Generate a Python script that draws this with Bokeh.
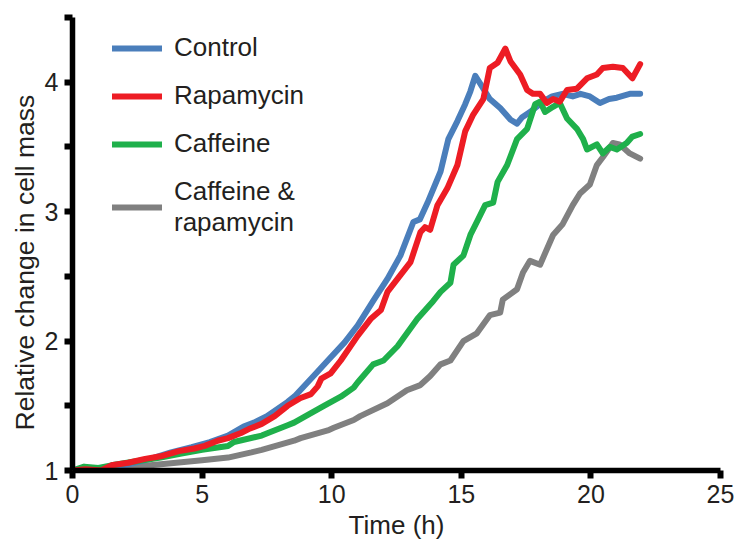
from bokeh.plotting import figure
from bokeh.models import Range1d, FixedTicker, Legend, LegendItem, Title
from bokeh.embed import file_html
from bokeh.resources import INLINE

# ---- data ----
control_t = [0, 0.5, 1.0, 1.5, 2.2, 3.0, 3.8, 4.6, 5.3, 6.0, 6.6, 7.0, 7.5, 8.3, 8.6, 9.3, 9.85,
             10.5, 11.0, 11.6, 12.15, 12.65, 13.15, 13.4, 13.7, 14.2, 14.5, 14.85, 15.15, 15.35,
             15.54, 15.85, 16.1, 16.5, 16.9, 17.15, 17.35, 17.65, 17.9, 18.15, 18.5, 18.9, 19.3,
             19.6, 19.96, 20.35, 20.7, 21.0, 21.5, 21.9]
control_y = [1.0, 1.0, 0.99, 1.02, 1.05, 1.09, 1.14, 1.18, 1.22, 1.27, 1.34, 1.37, 1.42, 1.53, 1.58,
             1.73, 1.85, 1.99, 2.12, 2.31, 2.48, 2.66, 2.92, 2.94, 3.07, 3.31, 3.56, 3.70, 3.83, 3.93,
             4.05, 3.95, 3.87, 3.80, 3.71, 3.68, 3.73, 3.77, 3.81, 3.85, 3.89, 3.91, 3.89, 3.91,
             3.89, 3.84, 3.87, 3.88, 3.91, 3.91]

rapa_t = [0, 0.5, 1.1, 1.5, 2.15, 2.8, 3.4, 4.1, 4.7, 5.1, 5.6, 6.0, 6.5, 6.8, 7.3, 7.8, 8.3, 8.8,
          9.2, 9.46, 9.6, 9.96, 10.35, 11.0, 11.5, 11.9, 12.15, 12.65, 13.04, 13.42, 13.6, 13.8,
          14.08, 14.46, 14.85, 15.15, 15.46, 15.85, 16.1, 16.4, 16.7, 16.9, 17.27, 17.54, 17.77,
          18.04, 18.3, 18.54, 18.8, 19.08, 19.46, 19.85, 20.23, 20.46, 20.85, 21.23, 21.6, 21.9]
rapa_y = [1.0, 1.01, 1.0, 1.04, 1.06, 1.09, 1.11, 1.15, 1.17, 1.19, 1.23, 1.25, 1.29, 1.32, 1.36,
          1.42, 1.50, 1.56, 1.59, 1.65, 1.71, 1.75, 1.85, 2.04, 2.17, 2.24, 2.38, 2.51, 2.61, 2.84,
          2.88, 2.86, 3.05, 3.18, 3.36, 3.62, 3.75, 3.87, 4.11, 4.15, 4.26, 4.16, 4.06, 3.94, 3.91,
          3.91, 3.84, 3.87, 3.85, 3.94, 3.95, 4.03, 4.06, 4.11, 4.12, 4.11, 4.03, 4.14]

caff_t = [0, 0.45, 1.0, 1.5, 2.4, 3.4, 4.2, 5.0, 6.0, 6.23, 7.3, 7.54, 8.3, 8.55, 9.08, 9.7, 10.35,
          10.85, 11.0, 11.6, 12.0, 12.54, 13.3, 13.92, 14.2, 14.58, 14.7, 15.08, 15.35, 15.65,
          15.92, 16.23, 16.4, 16.77, 17.15, 17.54, 17.85, 18.04, 18.23, 18.54, 18.8, 19.08, 19.46,
          19.7, 19.85, 20.23, 20.46, 20.73, 21.0, 21.38, 21.6, 21.9]
caff_y = [1.0, 1.03, 1.02, 1.04, 1.07, 1.10, 1.13, 1.16, 1.19, 1.22, 1.27, 1.29, 1.35, 1.37, 1.43,
          1.50, 1.57, 1.64, 1.68, 1.82, 1.85, 1.96, 2.17, 2.31, 2.38, 2.45, 2.59, 2.66, 2.82, 2.94,
          3.05, 3.07, 3.23, 3.36, 3.56, 3.64, 3.83, 3.85, 3.77, 3.81, 3.84, 3.72, 3.64, 3.56, 3.48,
          3.52, 3.45, 3.50, 3.48, 3.53, 3.58, 3.60]

combo_t = [0, 1.0, 2.15, 3.0, 4.0, 5.0, 6.0, 6.9, 7.3, 8.55, 8.8, 9.85, 10.08, 10.85, 11.1, 12.15,
           12.9, 13.42, 13.8, 14.2, 14.58, 15.08, 15.6, 16.1, 16.5, 16.6, 17.15, 17.38, 17.65,
           18.04, 18.54, 18.9, 19.3, 19.58, 19.96, 20.23, 20.46, 20.85, 21.1, 21.5, 21.9]
combo_y = [1.0, 1.01, 1.02, 1.04, 1.06, 1.08, 1.10, 1.14, 1.16, 1.23, 1.25, 1.31, 1.33, 1.39, 1.42,
           1.52, 1.62, 1.66, 1.73, 1.82, 1.85, 2.0, 2.06, 2.2, 2.22, 2.32, 2.40, 2.53, 2.62, 2.59,
           2.82, 2.90, 3.05, 3.14, 3.21, 3.36, 3.42, 3.53, 3.52, 3.45, 3.41]

series_names = ["Control", "Rapamycin", "Caffeine", "Caffeine &\nrapamycin"]
series_colors = ["#4A7EBB", "#ED1C24", "#1FB04B", "#808080"]

x_ticks = [0, 5, 10, 15, 20, 25]
y_ticks = [1, 1.5, 2, 2.5, 3, 3.5, 4, 4.5]
y_tick_labels = {1: "1", 1.5: "", 2: "2", 2.5: "", 3: "3", 3.5: "", 4: "4", 4.5: ""}
x_title = "Time (h)"
y_title = "Relative change in cell mass"

FONT = "Liberation Sans"
TXT = "#231F20"

p = figure(width=736, height=542, output_backend="svg", toolbar_location=None,
           x_range=Range1d(0, 25), y_range=Range1d(1, 4.5),
           min_border_left=72, min_border_right=16, min_border_top=17, min_border_bottom=72)
p.outline_line_color = None
p.grid.visible = False
p.background_fill_color = "white"

data = [(control_t, control_y), (rapa_t, rapa_y), (caff_t, caff_y), (combo_t, combo_y)]
renderers = {}
for idx in [3, 0, 2, 1]:
    t, y = data[idx]
    r = p.line(t, y, line_color=series_colors[idx], line_width=6,
               line_cap="round", line_join="round")
    renderers[idx] = r

for ax in (p.xaxis[0], p.yaxis[0]):
    ax.axis_line_width = 5.5
    ax.axis_line_color = "black"
    ax.major_tick_line_width = 6
    ax.major_tick_line_color = "black"
    ax.major_tick_out = 8
    ax.major_tick_in = 0
    ax.minor_tick_line_color = None
    ax.major_label_text_font = FONT
    ax.major_label_text_font_size = "25px"
    ax.major_label_text_color = TXT
    ax.major_label_standoff = 6

p.xaxis[0].ticker = FixedTicker(ticks=x_ticks)
p.yaxis[0].ticker = FixedTicker(ticks=y_ticks)
p.yaxis[0].major_label_overrides = y_tick_labels

xa = p.xaxis[0]
xa.axis_label = x_title
xa.axis_label_text_font = FONT
xa.axis_label_text_font_size = "26px"
xa.axis_label_text_font_style = "normal"
xa.axis_label_text_color = TXT
xa.axis_label_standoff = 4

ytitle = Title(text=y_title, align="left", offset=40, standoff=3,
               text_font=FONT, text_font_size="26.5px", text_font_style="normal",
               text_color=TXT)
p.add_layout(ytitle, "left")

items = [LegendItem(label=series_names[i], renderers=[renderers[i]]) for i in range(4)]
legend = Legend(items=items, location=(40, 232), orientation="vertical",
                label_text_font=FONT, label_text_font_size="26px", label_text_color=TXT,
                glyph_width=50, glyph_height=30, label_standoff=12, spacing=17,
                padding=0, margin=0, border_line_alpha=0, background_fill_alpha=0)
p.add_layout(legend, "center")

open("out.html", "w").write(file_html(p, INLINE))
